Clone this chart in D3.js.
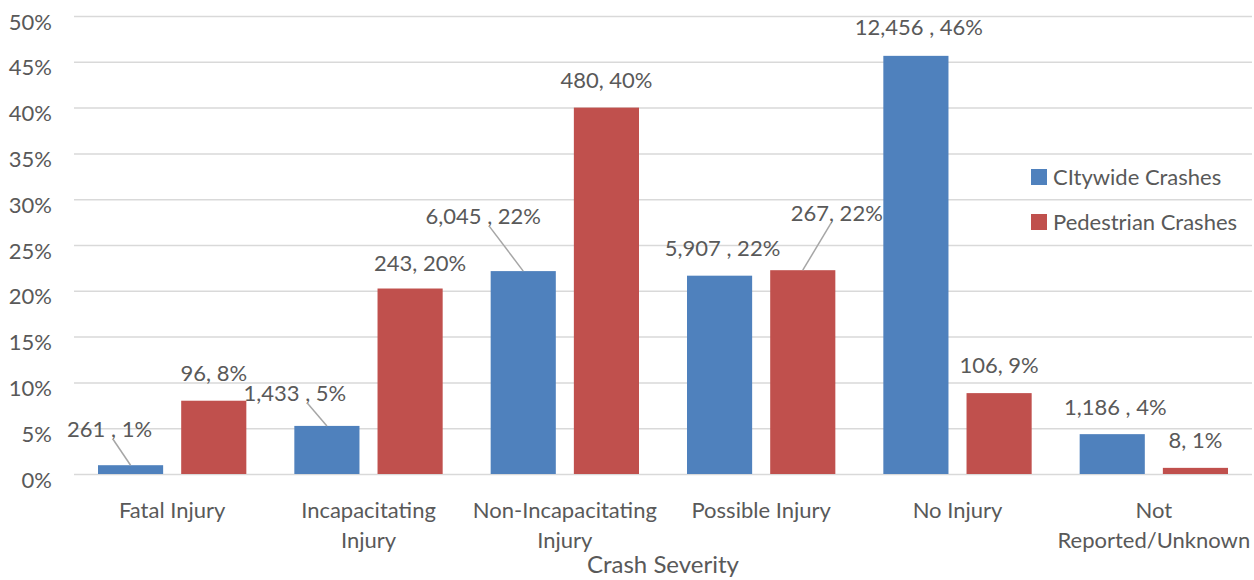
<!DOCTYPE html>
<html>
<head>
<meta charset="utf-8">
<script src="https://cdn.jsdelivr.net/npm/d3@7"></script>
<style>
  html, body { margin: 0; padding: 0; background: #fff; }
  svg { display: block; }
  text { font-family: Lato, "Open Sans", sans-serif; fill: #595959; }
</style>
</head>
<body>
<svg id="chart" width="1254" height="580"></svg>
<script>
// Crash severity categories (x axis)
const categories = [
  "Fatal Injury",
  "Incapacitating Injury",
  "Non-Incapacitating Injury",
  "Possible Injury",
  "No Injury",
  "Not Reported/Unknown"
];
// Wrapped category labels as drawn under the axis
const categoryLines = [
  ["Fatal Injury"],
  ["Incapacitating", "Injury"],
  ["Non-Incapacitating", "Injury"],
  ["Possible Injury"],
  ["No Injury"],
  ["Not", "Reported/Unknown"]
];
const seriesNames = ["CItywide Crashes", "Pedestrian Crashes"];

// Crash counts per severity
const citywideCounts = [261, 1433, 6045, 5907, 12456, 1186];
const pedestrianCounts = [96, 243, 480, 267, 106, 8];

// Share of each series' crashes, in percent
const citywidePct = [0.96, 5.25, 22.15, 21.65, 45.65, 4.35];
const pedestrianPct = [8.0, 20.25, 40.0, 22.25, 8.83, 0.67];

// Y axis ticks, in percent
const yTicks = [0, 5, 10, 15, 20, 25, 30, 35, 40, 45, 50];

const colors = ["#4F81BD", "#C0504D"];

// ---- layout ----
const svg = d3.select("#chart");
const plot = { left: 74, right: 1252, top: 16, bottom: 474 };
const FS = "22px";

const x0 = d3.scaleBand().domain(categories).range([plot.left, plot.right]).padding(0);
const x1 = d3.scaleBand().domain(seriesNames)
  .range([24, x0.bandwidth() - 24]).paddingInner(0.217).paddingOuter(0);
const y = d3.scaleLinear().domain([0, 50]).range([plot.bottom, plot.top]);

// Gridlines
const grid = svg.append("g")
  .attr("transform", `translate(${plot.left},0)`)
  .call(d3.axisLeft(y).tickValues(yTicks).tickSize(-(plot.right - plot.left)).tickFormat(""));
grid.select(".domain").remove();
grid.selectAll("line").attr("stroke", "#d9d9d9").attr("stroke-width", 1.5);

// Y tick labels
const yAxis = svg.append("g")
  .attr("transform", `translate(52,0)`)
  .call(d3.axisLeft(y).tickValues(yTicks).tickSize(0).tickPadding(0).tickFormat(d => d + "%"));
yAxis.select(".domain").remove();
yAxis.selectAll("text")
  .attr("x", 0).attr("dy", null).attr("y", 13)
  .style("font-size", FS).style("fill", "#595959")
  .attr("text-anchor", "end");

// Bars
const rows = categories.map((c, i) => ({
  category: c,
  values: [
    { series: seriesNames[0], pct: citywidePct[i], count: citywideCounts[i], s: 0, i },
    { series: seriesNames[1], pct: pedestrianPct[i], count: pedestrianCounts[i], s: 1, i }
  ]
}));

const groups = svg.append("g").selectAll("g").data(rows).join("g")
  .attr("transform", d => `translate(${x0(d.category)},0)`);

groups.selectAll("rect").data(d => d.values).join("rect")
  .attr("x", d => x1(d.series))
  .attr("width", x1.bandwidth())
  .attr("y", d => y(d.pct))
  .attr("height", d => y(0) - y(d.pct))
  .attr("fill", d => colors[d.s]);

// Data labels: "count, pct%"; some are nudged away from the bar with a leader line
const fmt = d3.format(",");
const countPart = d => d.s === 0 ? `${fmt(d.count)} ` : `${fmt(d.count)}`;
const labelText = d => `${countPart(d)}, ${Math.round(d.pct)}%`;

// nudges in px: [dx, dy, leader] relative to the default spot (centred on bar, 20px above top)
const nudges = {
  "0-0": [-21, -8, true],
  "1-0": [-32, -5, true],
  "1-1": [10, 2, false],
  "2-0": [-40, -27, true],
  "3-0": [3, 0, false],
  "3-1": [34, -29, true],
  "4-0": [3, -1, false],
  "5-0": [3, 1, false]
};

const labels = svg.append("g");
rows.forEach(r => r.values.forEach(d => {
  const cx = x0(r.category) + x1(d.series) + x1.bandwidth() / 2;
  const top = y(d.pct);
  const n = nudges[`${d.i}-${d.s}`] || [0, 0, false];
  const lx = cx + n[0];
  const ly = top - 20 + n[1];
  const t = labels.append("text").attr("x", lx).attr("y", ly)
    .attr("text-anchor", "middle").style("font-size", FS).text(labelText(d));
  if (n[2]) {
    const node = t.node();
    const w = node.getComputedTextLength();
    // leader starts under the separator that follows the count
    const sub = node.getSubStringLength(0, countPart(d).length);
    const ax = lx - w / 2 + sub + 2;
    labels.append("line")
      .attr("x1", ax).attr("y1", ly + 2)
      .attr("x2", cx).attr("y2", top)
      .attr("stroke", "#a6a6a6").attr("stroke-width", 1.5);
  }
}));

// X category labels
const xl = svg.append("g");
categoryLines.forEach((lines, i) => {
  const cx = x0(categories[i]) + x0.bandwidth() / 2;
  lines.forEach((ln, j) => {
    xl.append("text").attr("x", cx).attr("y", 518 + j * 30)
      .attr("text-anchor", "middle").style("font-size", FS).text(ln);
  });
});

// Axis title
svg.append("text")
  .attr("x", (plot.left + plot.right) / 2).attr("y", 573)
  .attr("text-anchor", "middle").style("font-size", "24px").text("Crash Severity");

// Legend
const legend = svg.append("g").attr("transform", "translate(1031,169)");
seriesNames.forEach((s, i) => {
  legend.append("rect").attr("x", 0).attr("y", i * 45).attr("width", 16).attr("height", 16)
    .attr("fill", colors[i]);
  legend.append("text").attr("x", 22).attr("y", i * 45 + 16)
    .style("font-size", FS).text(s);
});
</script>
</body>
</html>
